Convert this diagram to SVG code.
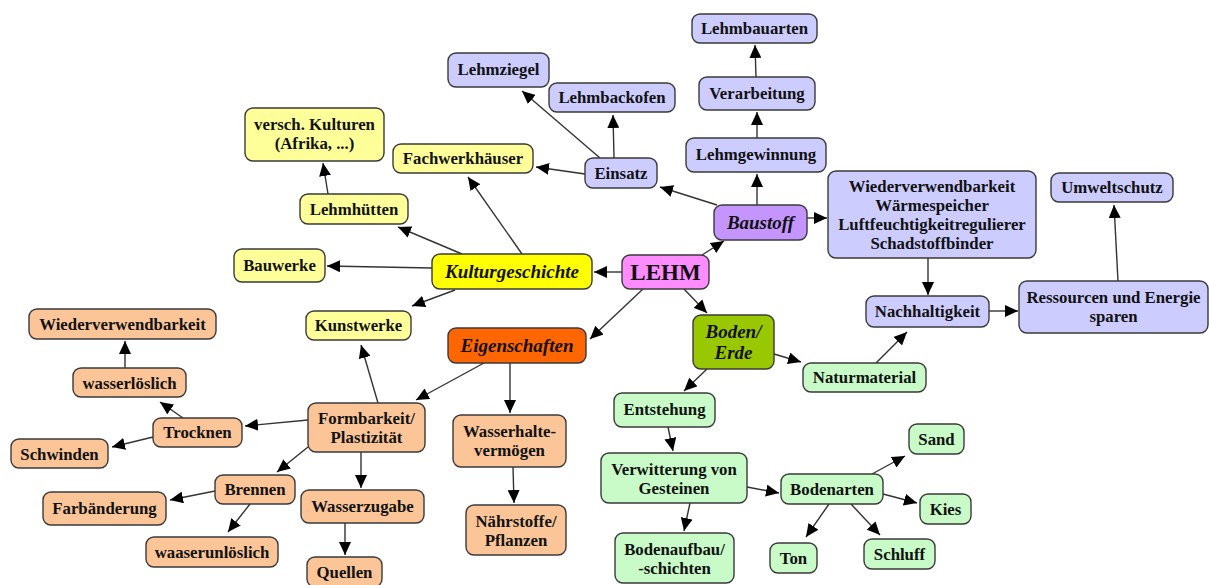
<svg xmlns="http://www.w3.org/2000/svg" width="1209" height="585" viewBox="0 0 1209 585">
<defs>
<marker id="ah" markerUnits="userSpaceOnUse" markerWidth="14" markerHeight="12" refX="13" refY="6" orient="auto">
<path d="M0,0 L13,6 L0,12 z" fill="#000"/>
</marker>
<style>
rect{stroke:#3a3a3a;stroke-width:1.4}
.y{fill:#FFFF99}.Y{fill:#FFFF00}.p{fill:#FF8CFF}.b{fill:#CCCCFF}.B{fill:#C495FF}
.o{fill:#FBC598}.O{fill:#FF6600}.g{fill:#C8FBC8}.G{fill:#99C800}
text{font-family:'Liberation Serif',serif;font-weight:bold;font-size:16.8px;fill:#111;text-anchor:middle}
.it{font-style:italic;font-size:19px}
.big{font-size:23px}
#edges line{stroke:#333;stroke-width:1.4;marker-end:url(#ah)}
</style>
</defs>
<rect x="0" y="0" width="1209" height="585" fill="#fff" style="stroke:none"/>
<g id="edges">
<line x1="622" y1="272" x2="594" y2="272"/>
<line x1="702" y1="255" x2="724" y2="241"/>
<line x1="643" y1="289" x2="590" y2="339"/>
<line x1="684" y1="289" x2="707" y2="313"/>
<line x1="432" y1="268" x2="327" y2="266"/>
<line x1="462" y1="254" x2="398" y2="227"/>
<line x1="522" y1="254" x2="468" y2="177"/>
<line x1="455" y1="290" x2="412" y2="306"/>
<line x1="328" y1="194" x2="323" y2="163"/>
<line x1="717" y1="205" x2="660" y2="187"/>
<line x1="757" y1="205" x2="757" y2="174"/>
<line x1="807" y1="218" x2="827" y2="218"/>
<line x1="757" y1="138" x2="757" y2="112"/>
<line x1="756" y1="77" x2="755" y2="45"/>
<line x1="600" y1="158" x2="522" y2="91"/>
<line x1="614" y1="158" x2="613" y2="115"/>
<line x1="585" y1="174" x2="536" y2="167"/>
<line x1="928" y1="258" x2="928" y2="295"/>
<line x1="989" y1="311" x2="1018" y2="311"/>
<line x1="1118" y1="281" x2="1114" y2="205"/>
<line x1="876" y1="363" x2="907" y2="332"/>
<line x1="774" y1="354" x2="801" y2="362"/>
<line x1="707" y1="369" x2="684" y2="391"/>
<line x1="668" y1="427" x2="673" y2="451"/>
<line x1="747" y1="487" x2="779" y2="493"/>
<line x1="690" y1="503" x2="684" y2="531"/>
<line x1="872" y1="474" x2="905" y2="456"/>
<line x1="883" y1="494" x2="917" y2="503"/>
<line x1="829" y1="504" x2="806" y2="537"/>
<line x1="851" y1="504" x2="880" y2="535"/>
<line x1="484" y1="363" x2="416" y2="400"/>
<line x1="510" y1="363" x2="510" y2="413"/>
<line x1="513" y1="467" x2="514" y2="503"/>
<line x1="378" y1="403" x2="361" y2="345"/>
<line x1="308" y1="420" x2="245" y2="426"/>
<line x1="308" y1="447" x2="277" y2="472"/>
<line x1="361" y1="452" x2="361" y2="488"/>
<line x1="183" y1="418" x2="160" y2="402"/>
<line x1="153" y1="437" x2="112" y2="447"/>
<line x1="125" y1="368" x2="125" y2="341"/>
<line x1="215" y1="491" x2="170" y2="500"/>
<line x1="250" y1="504" x2="228" y2="532"/>
<line x1="345" y1="523" x2="345" y2="555"/>
</g>
<g id="nodes" font-family="Liberation Serif, serif" font-weight="bold">
<g id="lehm"><rect class="p" x="622" y="255" width="87" height="34" rx="8"/><text class="big" x="665.5" y="280">LEHM</text></g>
<g id="kulturgeschichte"><rect class="Y" x="432" y="254" width="160" height="35" rx="8"/><text class="it" x="512" y="278">Kulturgeschichte</text></g>
<g id="kulturen"><rect class="y" x="245" y="108" width="139" height="53" rx="8"/><text x="314.5" y="130">versch. Kulturen</text><text x="314.5" y="149">(Afrika, ...)</text></g>
<g id="lehmhuetten"><rect class="y" x="300" y="194" width="108" height="30" rx="8"/><text x="354" y="215">Lehmhütten</text></g>
<g id="bauwerke"><rect class="y" x="234" y="249" width="91" height="33" rx="8"/><text x="279.5" y="271">Bauwerke</text></g>
<g id="fachwerk"><rect class="y" x="393" y="144" width="140" height="29" rx="8"/><text x="463" y="164">Fachwerkhäuser</text></g>
<g id="kunstwerke"><rect class="y" x="306" y="311" width="105" height="29" rx="8"/><text x="358.5" y="331">Kunstwerke</text></g>
<g id="lehmziegel"><rect class="b" x="448" y="53" width="101" height="34" rx="8"/><text x="498.5" y="75">Lehmziegel</text></g>
<g id="lehmbackofen"><rect class="b" x="549" y="83" width="126" height="29" rx="8"/><text x="612" y="103">Lehmbackofen</text></g>
<g id="lehmbauarten"><rect class="b" x="692" y="14" width="125" height="29" rx="8"/><text x="754.5" y="34">Lehmbauarten</text></g>
<g id="verarbeitung"><rect class="b" x="699" y="77" width="116" height="33" rx="8"/><text x="757" y="99">Verarbeitung</text></g>
<g id="lehmgewinnung"><rect class="b" x="686" y="138" width="140" height="34" rx="8"/><text x="756" y="160">Lehmgewinnung</text></g>
<g id="einsatz"><rect class="b" x="585" y="158" width="72" height="30" rx="8"/><text x="621" y="179">Einsatz</text></g>
<g id="baustoff"><rect class="B" x="714" y="205" width="93" height="35" rx="8"/><text class="it" x="760.5" y="229">Baustoff</text></g>
<g id="eigenschaften-liste"><rect class="b" x="828" y="171" width="208" height="87" rx="8"/><text x="932" y="192">Wiederverwendbarkeit</text><text x="932" y="211">Wärmespeicher</text><text x="932" y="230">Luftfeuchtigkeitregulierer</text><text x="932" y="249">Schadstoffbinder</text></g>
<g id="umweltschutz"><rect class="b" x="1051" y="173" width="122" height="29" rx="8"/><text x="1112" y="193">Umweltschutz</text></g>
<g id="nachhaltigkeit"><rect class="b" x="866" y="296" width="123" height="31" rx="8"/><text x="927.5" y="317">Nachhaltigkeit</text></g>
<g id="ressourcen"><rect class="b" x="1019" y="281" width="189" height="52" rx="8"/><text x="1113.5" y="303">Ressourcen und Energie</text><text x="1113.5" y="322">sparen</text></g>
<g id="eigenschaften"><rect class="O" x="448" y="328" width="138" height="35" rx="8"/><text class="it" x="517" y="352">Eigenschaften</text></g>
<g id="wasserhalte"><rect class="o" x="453" y="415" width="113" height="52" rx="8"/><text x="509.5" y="437">Wasserhalte-</text><text x="509.5" y="456">vermögen</text></g>
<g id="naehrstoffe"><rect class="o" x="466" y="505" width="100" height="50" rx="8"/><text x="516" y="527">Nährstoffe/</text><text x="516" y="546">Pflanzen</text></g>
<g id="formbarkeit"><rect class="o" x="308" y="403" width="117" height="49" rx="8"/><text x="366.5" y="424">Formbarkeit/</text><text x="366.5" y="443">Plastizität</text></g>
<g id="wiederverwendbarkeit"><rect class="o" x="29" y="309" width="187" height="30" rx="8"/><text x="122.5" y="330">Wiederverwendbarkeit</text></g>
<g id="wasserloeslich"><rect class="o" x="73" y="368" width="113" height="29" rx="8"/><text x="129.5" y="389">wasserlöslich</text></g>
<g id="trocknen"><rect class="o" x="153" y="418" width="89" height="29" rx="8"/><text x="197.5" y="438">Trocknen</text></g>
<g id="schwinden"><rect class="o" x="11" y="439" width="97" height="29" rx="8"/><text x="59.5" y="460">Schwinden</text></g>
<g id="brennen"><rect class="o" x="215" y="475" width="80" height="29" rx="8"/><text x="255" y="495">Brennen</text></g>
<g id="farbaenderung"><rect class="o" x="43" y="492" width="123" height="33" rx="8"/><text x="104.5" y="514">Farbänderung</text></g>
<g id="waaserunloeslich"><rect class="o" x="146" y="537" width="132" height="30" rx="8"/><text x="212" y="558">waaserunlöslich</text></g>
<g id="wasserzugabe"><rect class="o" x="301" y="490" width="123" height="33" rx="8"/><text x="362.5" y="512">Wasserzugabe</text></g>
<g id="quellen"><rect class="o" x="307" y="557" width="75" height="30" rx="8"/><text x="344.5" y="578">Quellen</text></g>
<g id="boden"><rect class="G" x="693" y="315" width="81" height="54" rx="8"/><text class="it" x="733.5" y="338">Boden/</text><text class="it" x="733.5" y="359">Erde</text></g>
<g id="naturmaterial"><rect class="g" x="803" y="363" width="123" height="29" rx="8"/><text x="864.5" y="383">Naturmaterial</text></g>
<g id="entstehung"><rect class="g" x="614" y="393" width="101" height="34" rx="8"/><text x="664.5" y="415">Entstehung</text></g>
<g id="verwitterung"><rect class="g" x="601" y="453" width="146" height="50" rx="8"/><text x="674" y="475">Verwitterung von</text><text x="674" y="494">Gesteinen</text></g>
<g id="bodenaufbau"><rect class="g" x="615" y="533" width="119" height="50" rx="8"/><text x="674.5" y="555">Bodenaufbau/</text><text x="674.5" y="574">-schichten</text></g>
<g id="bodenarten"><rect class="g" x="781" y="474" width="102" height="30" rx="8"/><text x="832" y="495">Bodenarten</text></g>
<g id="sand"><rect class="g" x="909" y="424" width="55" height="30" rx="8"/><text x="936.5" y="445">Sand</text></g>
<g id="kies"><rect class="g" x="920" y="494" width="51" height="30" rx="8"/><text x="945.5" y="515">Kies</text></g>
<g id="schluff"><rect class="g" x="864" y="539" width="71" height="30" rx="8"/><text x="899.5" y="560">Schluff</text></g>
<g id="ton"><rect class="g" x="770" y="543" width="47" height="30" rx="8"/><text x="793.5" y="564">Ton</text></g>
</g>
</svg>
